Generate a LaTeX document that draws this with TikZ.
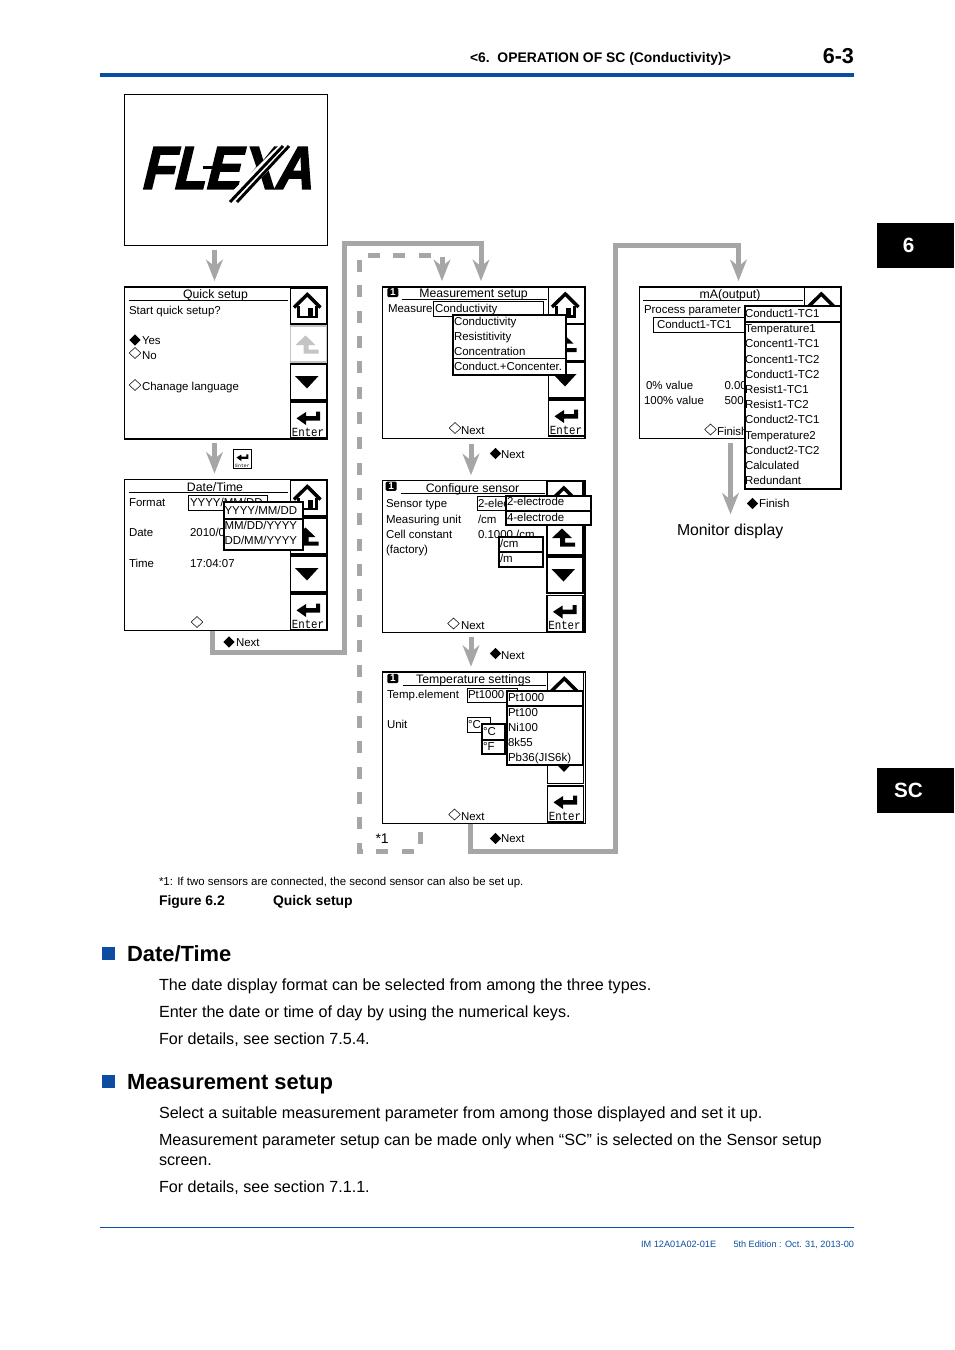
\documentclass[tikz,border=0pt]{standalone}
\usepackage{fontspec}
\setmainfont{Liberation Sans}
\setmonofont{Liberation Mono}
\newfontfamily\logofont{Liberation Sans}[BoldFeatures={FakeBold=3,FakeSlant=0.28}]
\usetikzlibrary{arrows.meta,shapes.geometric}
\definecolor{flowgray}{HTML}{A6A6A6}
\definecolor{ykblue}{HTML}{0B4DA2}
\definecolor{greybtn}{HTML}{C4C4C4}
\newcommand\fs[1]{\fontsize{#1}{#1}\selectfont}
% text at base-left position
\newcommand\tx[5][]{\node[tx,#1] (#2) at (#3,#4) {#5};}
% rectangle node by corners (px)
\newcommand\rect[6][]{\node[rectnode,#1,minimum width={(#5-#3)*0.75pt},minimum height={(#6-#4)*0.75pt}] (#2) at ({(#3+#5)/2},{(#4+#6)/2}) {};}
% button: name, left, top, icon
\newcommand\btn[5][black]{\node[btnbox,draw=#1] (#2) at ({#3+18},{#4+18}) {};\pic[color=#1] at (#3,#4) {#5};}
\tikzset{
  tx/.style={anchor=base west,inner sep=0pt,outer sep=0pt,font=\fs{8.6}},
  ttl/.style={anchor=base,font=\fs{9.2}},
  body/.style={font=\fs{12.1}},
  rectnode/.style={draw=black,line width=0.8pt,fill=white,inner sep=0pt,outer sep=0pt},
  screenbox/.style={line width=0.9pt},
  popup/.style={line width=1.5pt},
  btnbox/.style={line width=1pt,fill=white,inner sep=0pt,outer sep=0pt,minimum size=27pt},
  flow/.style={draw=flowgray,line width=3.75pt,line join=miter,
    -{Stealth[length=16pt,width=12.5pt,inset=5pt,flowgray]},shorten <=3pt,shorten >=4.5pt},
  dia/.style={diamond,inner sep=0pt,outer sep=0pt,minimum width=8.6pt,minimum height=8.3pt},
  wdia/.style={dia,draw=black,line width=0.4pt,fill=white},
  bdia/.style={dia,fill=black},
  badge/.style={fill=black,text=white,rounded corners=1pt,inner sep=0pt,minimum width=8.2pt,minimum height=7pt,font=\fs{7.5}\bfseries},
  underl/.style={draw=black,line width=0.7pt},
  sep/.style={draw=black,line width=1.4pt},
  thinsep/.style={draw=black,line width=0.7pt},
  pics/homeicon/.style={code={
    \draw[line width=2.6pt,line join=miter] (3.5,19.5)--(16.8,6.5)--(30,19.5);
    \draw[line width=2.2pt] (8,18)--(8,29)--(26,29)--(26,18);
    \fill (17.8,20) rectangle (22.8,29);
  }},
  pics/backicon/.style={code={
    \fill (15,9.5)--(25,19)--(18,19)--(18,23.5)--(28,23.5)--(28,27.5)--(13,27.5)--(13,19)--(5,19)--cycle;
  }},
  pics/downicon/.style={code={
    \fill (4.5,12)--(28,12)--(16.5,24.5)--cycle;
  }},
  pics/entericon/.style={code={
    \fill (6,16.3)--(15.5,10)--(15.5,14)--(25.5,14)--(25.5,9.5)--(29.5,9.5)--(29.5,18.5)--(15.5,18.5)--(15.5,23)--cycle;
    \node[anchor=base,inner sep=0pt,font=\ttfamily\fs{8.1}] at (17.5,34) {\scalebox{1}[1.15]{Enter}};
  }},
  pics/smallenter/.style={code={
    \fill (6,16.3)--(15.5,10)--(15.5,14)--(25.5,14)--(25.5,9.5)--(29.5,9.5)--(29.5,18.5)--(15.5,18.5)--(15.5,23)--cycle;
  }},
}
\begin{document}
\begin{tikzpicture}[x=0.75pt,y=-0.75pt]
\useasboundingbox (0,0) rectangle (954,1350);

% ---- page header
\tx[font=\fs{10.43}\bfseries]{hdr}{470}{62}{<6.\ \ OPERATION OF SC (Conductivity)>}
\tx[font=\fs{16.2}\bfseries,anchor=base east]{pageno}{854}{63}{6-3}
\draw[draw=ykblue,line width=2.4pt] (100,75) -- (854,75);
\rect[fill=black,draw=none]{tab1}{877}{223}{954}{268}
\node[font=\fs{15.5}\bfseries,text=white,inner sep=0pt] (tab1t) at (908.5,245.5) {6};
\rect[fill=black,draw=none]{tab2}{877}{768}{954}{813}
\node[font=\fs{15.5}\bfseries,text=white,inner sep=0pt] (tab2t) at (908.5,790.5) {SC};

% ---- logo screen
\rect[screenbox]{s1}{124.5}{94.5}{327.5}{245.5}
\node[inner sep=0pt,font=\logofont\fs{45}\bfseries] (logo) at (226,168) {\scalebox{0.87}[1.0]{FLEXA}};
\fill (203,165.5) rectangle (222,169);
\draw[white,line width=8pt] (226,205) -- (292,140);
\draw[black,line width=2.2pt] (230,202) -- (283,146);
\draw[black,line width=2.2pt] (237,202) -- (289,146);

% ---- Quick setup
\rect[screenbox]{s2}{124.5}{287}{327.5}{439}
\node[tx,ttl] (s2t) at (215.5,298) {Quick setup};
\draw[underl] (129,300.3) -- (288,300.3);
\tx{s2a}{129}{314}{Start quick setup?}
\node[bdia] (s2yd) at (135,340) {};
\tx{s2y}{142}{344}{Yes}
\node[wdia] (s2nd) at (135,353) {};
\tx{s2n}{142}{359}{No}
\node[wdia] (s2cd) at (135,385) {};
\tx{s2c}{142}{390}{Chanage language}
\btn{s2b1}{290.5}{288}{homeicon}
\btn[greybtn]{s2b2}{290.5}{326}{backicon}
\btn{s2b3}{290.5}{364}{downicon}
\btn{s2b4}{290.5}{402}{entericon}

% ---- small enter key
\rect[line width=1pt]{kenter}{233.5}{449.5}{251.5}{468.5}
\pic[scale=0.5] at (233.5,449.5) {smallenter};
\node[inner sep=0pt,anchor=base,font=\ttfamily\fs{3.6}] (kentert) at (242.5,467) {Enter};

% ---- Date/Time
\rect[screenbox]{s3}{124.5}{479.5}{327.5}{630.5}
\node[tx,ttl] (s3t) at (215,491) {Date/Time};
\draw[underl] (129,492.5) -- (288,492.5);
\tx{s3f}{129}{506}{Format}
\rect[line width=0.7pt]{s3fb}{188.5}{495.5}{267}{510.5}
\tx{s3fv}{190}{506}{YYYY/MM/DD}
\tx{s3d}{129}{536}{Date}
\tx{s3dv}{190}{536}{2010/0}
\tx{s3h}{129}{567}{Time}
\tx{s3hv}{190}{567}{17:04:07}
\node[wdia] (s3dia) at (197,622) {};
\btn{s3b1}{290.5}{480}{homeicon}
\btn{s3b2}{290.5}{518}{backicon}
\btn{s3b3}{290.5}{556}{downicon}
\btn{s3b4}{290.5}{594}{entericon}
\rect[popup]{s3p}{223.5}{502}{302.5}{549.5}
\draw[sep] (s3p.west |- 0,519) -- (s3p.east |- 0,519);
\tx{s3p1}{224.5}{514.5}{YYYY/MM/DD}
\tx{s3p2}{224.5}{529}{MM/DD/YYYY}
\tx{s3p3}{224.5}{544}{DD/MM/YYYY}
\node[bdia] (s3nd) at (229,642) {};
\tx{s3n}{236}{646}{Next}

% ---- Measurement setup
\rect[screenbox]{s4}{382.5}{287}{585}{438.5}
\node[badge] (s4bd) at (392.8,292.5) {1};
\node[tx,ttl] (s4t) at (473.5,297.5) {Measurement setup};
\draw[underl] (401.5,299.3) -- (546.5,299.3);
\tx{s4m}{388}{312}{Measure}
\btn{s4b1}{548.5}{287.5}{homeicon}
\btn{s4b2}{548.5}{324.5}{backicon}
\btn{s4b3}{548.5}{362}{downicon}
\btn{s4b4}{548.5}{400}{entericon}
\rect[line width=0.7pt]{s4mb}{433.5}{301}{543.5}{316}
\tx{s4mv}{435}{312}{Conductivity}
\rect[popup]{s4p}{453}{314.5}{566}{375}
\draw[thinsep] (s4p.west |- 0,358.5) -- (s4p.east |- 0,358.5);
\tx{s4p1}{454}{325.5}{Conductivity}
\tx{s4p2}{454}{340.5}{Resistitivity}
\tx{s4p3}{454}{355.5}{Concentration}
\tx{s4p4}{454}{370.5}{Conduct.+Concenter.}
\node[wdia] (s4nd) at (455,428) {};
\tx{s4n}{461}{434}{Next}
\node[bdia] (s4nb) at (495.5,453.5) {};
\tx{s4nx}{501}{458}{Next}

% ---- Configure sensor
\rect[screenbox]{s5}{382.5}{480.5}{585}{632.5}
\node[badge] (s5bd) at (391.2,486.2) {1};
\node[tx,ttl] (s5t) at (472.5,492) {Configure sensor};
\draw[underl] (400.5,493) -- (545,493);
\tx{s5a}{386}{507}{Sensor type}
\tx{s5b}{386}{523}{Measuring unit}
\tx{s5c}{386}{538}{Cell constant}
\tx{s5d}{386}{553}{(factory)}
\btn{s5b1}{547}{481.5}{homeicon}
\btn{s5b2}{547}{519}{backicon}
\btn{s5b3}{547}{557}{downicon}
\btn{s5b4}{547}{595.5}{entericon}
\rect[line width=0.7pt]{s5tb}{477}{496}{508}{510.5}
\tx{s5tv}{478}{507}{2-elec}
\tx{s5uv}{478}{523}{/cm}
\tx{s5cv}{478}{538}{0.1000 /cm}
\rect[popup]{s5pa}{506}{495.5}{590.5}{524.5}
\draw[sep] (s5pa.west |- 0,510.7) -- (s5pa.east |- 0,510.7);
\tx{s5pa1}{507}{505}{2-electrode}
\tx{s5pa2}{507}{521}{4-electrode}
\rect[popup]{s5pb}{498.5}{537}{542.5}{566.5}
\draw[sep] (s5pb.west |- 0,552) -- (s5pb.east |- 0,552);
\tx{s5pb1}{500}{547}{/cm}
\tx{s5pb2}{500}{562}{/m}
\node[wdia] (s5nd) at (453.5,623.5) {};
\tx{s5n}{461}{629}{Next}
\node[bdia] (s5nb) at (495.5,653.5) {};
\tx{s5nx}{501}{659}{Next}

% ---- Temperature settings
\rect[screenbox]{s6}{382.5}{672}{585.5}{823.5}
\node[badge] (s6bd) at (392.8,678.5) {1};
\node[tx,ttl] (s6t) at (473.5,683) {Temperature settings};
\draw[underl] (402.5,685) -- (546,685);
\tx{s6a}{387}{698}{Temp.element}
\tx{s6b}{387}{728}{Unit}
\btn{s6b1}{547.5}{672}{homeicon}
\btn{s6b2}{547.5}{710}{backicon}
\btn{s6b3}{547.5}{747.5}{downicon}
\btn{s6b4}{547.5}{786}{entericon}
\rect[line width=0.7pt]{s6eb}{467.5}{688.5}{517.5}{702.5}
\tx{s6ev}{468}{698}{Pt1000}
\rect[line width=0.7pt]{s6ub}{467.5}{717}{490}{732.5}
\tx{s6uv}{468}{728}{°C}
\rect[popup]{s6pa}{482}{723.5}{505}{754}
\draw[sep] (s6pa.west |- 0,740) -- (s6pa.east |- 0,740);
\tx{s6pa1}{483}{735}{°C}
\tx{s6pa2}{483}{750}{°F}
\rect[popup]{s6pb}{507}{690.5}{582.5}{765}
\draw[sep] (s6pb.west |- 0,705.7) -- (s6pb.east |- 0,705.7);
\tx{s6pb1}{508}{701}{Pt1000}
\tx{s6pb2}{508}{716}{Pt100}
\tx{s6pb3}{508}{731}{Ni100}
\tx{s6pb4}{508}{746}{8k55}
\tx{s6pb5}{508}{761}{Pb36(JIS6k)}
\node[wdia] (s6nd) at (454.5,814.5) {};
\tx{s6n}{461}{820}{Next}
\node[bdia] (s6nb) at (495.5,838.5) {};
\tx{s6nx}{501}{842}{Next}
\tx[font=\fs{10.5}]{star}{375.5}{843}{*1}

% ---- mA(output)
\rect[screenbox]{s7}{639.5}{287}{841}{438.5}
\node[tx,ttl] (s7t) at (730,298) {mA(output)};
\draw[underl] (643,300) -- (802.5,300);
\tx{s7a}{644}{313}{Process parameter}
\rect[line width=0.7pt]{s7vb}{653.5}{317.5}{745}{332.5}
\tx{s7v}{657}{328}{Conduct1-TC1}
\tx{s7c}{646}{389}{0\% value}
\tx{s7d}{644}{404}{100\% value}
\tx{s7e}{724.5}{389}{0.00}
\tx{s7f}{724.5}{404}{500}
\btn{s7b1}{804.5}{287.5}{homeicon}
\node[wdia] (s7nd) at (710.5,429.5) {};
\tx{s7n}{717}{435}{Finish}
\rect[popup]{s7p}{744.5}{306}{840.5}{488.5}
\draw[sep] (s7p.west |- 0,321.7) -- (s7p.east |- 0,321.7);
\tx{s7p1}{745}{317}{Conduct1-TC1}
\tx{s7p2}{745}{332}{Temperature1}
\tx{s7p3}{745}{347}{Concent1-TC1}
\tx{s7p4}{745}{363}{Concent1-TC2}
\tx{s7p5}{745}{378}{Conduct1-TC2}
\tx{s7p6}{745}{393}{Resist1-TC1}
\tx{s7p7}{745}{408}{Resist1-TC2}
\tx{s7p8}{745}{423}{Conduct2-TC1}
\tx{s7p9}{745}{439}{Temperature2}
\tx{s7p10}{745}{454}{Conduct2-TC2}
\tx{s7p11}{745}{469}{Calculated}
\tx{s7p12}{745}{484}{Redundant}
\node[bdia] (s7fd) at (752.5,503.5) {};
\tx{s7fx}{759}{507}{Finish}
\tx[font=\fs{11.85}]{monitor}{677}{535}{Monitor display}
\coordinate (mon) at (730.5,523);

% ---- connectors
\coordinate (a1) at (214.5,260);
\coordinate (a2) at (214.5,450);
\coordinate (a3) at (471,450);
\coordinate (a4) at (471,650);
\coordinate (a5) at (730.5,470);
\draw[flow] (a1 |- s1.south) -- (a1 |- s2.north);
\draw[flow] (a2 |- s2.south) -- (a2 |- s3.north);
\draw[flow,shorten <=4pt,shorten >=4pt] (a3 |- s4.south) -- (a3 |- s5.north);
\draw[flow,shorten <=3pt,shorten >=4pt] (a4 |- s5.south) -- (a4 |- s6.north);
\draw[flow,shorten >=6.5pt] (a5 |- s7.south) -- (mon);
\coordinate (j1) at (212.5,652.5);
\coordinate (j2) at (344.5,652.5);
\coordinate (j3) at (344.5,243.5);
\coordinate (j4) at (481,243.5);
\draw[flow,shorten <=0pt] (j1 |- s3.south) -- (j1) -- (j2) -- (j3) -- (j4) -- (j4 |- s4.north);
\coordinate (k1) at (470,851);
\coordinate (k2) at (615.5,851);
\coordinate (k3) at (615.5,245.5);
\coordinate (k4) at (738.5,245.5);
\draw[flow,shorten <=0pt] (k1 |- s6.south) -- (k1) -- (k2) -- (k3) -- (k4) -- (k4 |- s7.north);
\coordinate (d0) at (420,832);
\coordinate (d1) at (420,851);
\coordinate (d2) at (359.5,851);
\coordinate (d3) at (359.5,255);
\coordinate (d4) at (442,255);
\draw[flow,shorten <=0pt,dash pattern=on 9pt off 10pt] (d0) -- (d1) -- (d2) -- (d3) -- (d4) -- (d4 |- s4.north);

% ---- caption
\tx[font=\fs{8.6}]{note}{159}{885}{*1: If two sensors are connected, the second sensor can also be set up.}
\tx[font=\fs{10.45}\bfseries]{figno}{159}{905}{Figure 6.2}
\tx[font=\fs{10.45}\bfseries]{figtt}{273}{905}{Quick setup}

% ---- Date/Time section
\rect[fill=ykblue,draw=none]{sq1}{102}{947}{115}{959.5}
\tx[font=\fs{16.45}\bfseries]{h1}{127}{961}{Date/Time}
\tx[body]{b11}{159}{990}{The date display format can be selected from among the three types.}
\tx[body]{b12}{159}{1017}{Enter the date or time of day by using the numerical keys.}
\tx[body]{b13}{159}{1044}{For details, see section 7.5.4.}

% ---- Measurement setup section
\rect[fill=ykblue,draw=none]{sq2}{102}{1075}{115}{1087.5}
\tx[font=\fs{16.45}\bfseries]{h2}{127}{1089}{Measurement setup}
\tx[body]{b21}{159}{1118}{Select a suitable measurement parameter from among those displayed and set it up.}
\tx[body]{b22}{159}{1145}{Measurement parameter setup can be made only when “SC” is selected on the Sensor setup}
\tx[body]{b23}{159}{1165}{screen.}
\tx[body]{b24}{159}{1192}{For details, see section 7.1.1.}

% ---- footer
\draw[draw=ykblue,line width=0.7pt] (100,1227.5) -- (854,1227.5);
\tx[font=\fs{6.9},text=ykblue]{f1}{641}{1247}{IM 12A01A02-01E}
\tx[font=\fs{6.85},text=ykblue,anchor=base east]{f2}{854}{1247}{5th Edition : Oct. 31, 2013-00}
\end{tikzpicture}
\end{document}
